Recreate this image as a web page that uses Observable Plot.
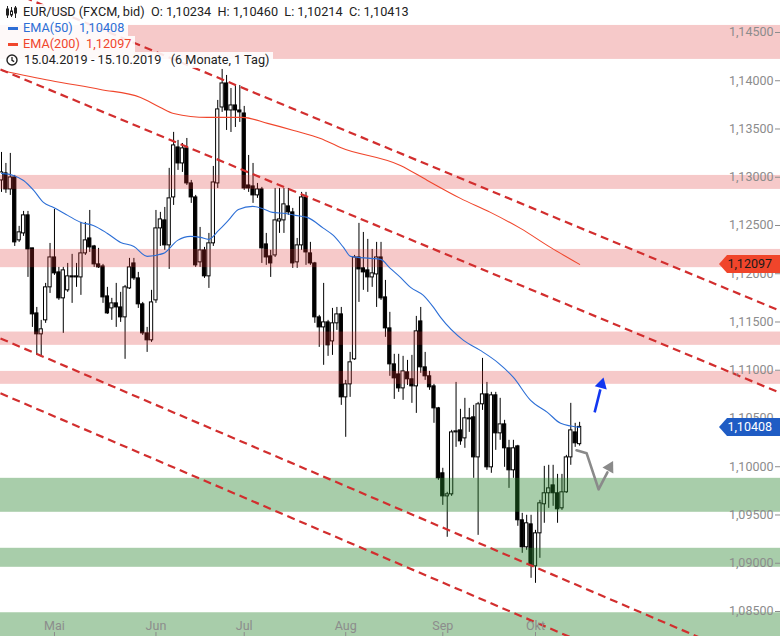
<!DOCTYPE html>
<html><head><meta charset="utf-8">
<script src="https://cdn.jsdelivr.net/npm/d3@7"></script>
<script src="https://cdn.jsdelivr.net/npm/@observablehq/plot@0.6"></script>
<style>
body{margin:0;background:#fff;font-family:Roboto,"Liberation Sans",sans-serif;}
#wrap{position:relative;width:780px;height:636px;overflow:hidden;}
#wrap svg{display:block;}
.row{position:absolute;left:0;height:16px;line-height:16px;white-space:pre;font-size:12.7px;color:#222;background:rgba(255,255,255,0.88);padding-right:4px;display:flex;align-items:center;}
.row svg{margin-left:6px;margin-right:6px;}
.dash{display:inline-block;width:10px;height:3px;margin-left:8px;margin-right:5px;}
.tag{position:absolute;left:719px;width:61px;height:18px;line-height:18px;font-size:12.5px;text-align:right;padding-right:8px;box-sizing:border-box;clip-path:polygon(0 50%,8px 0,100% 0,100% 100%,8px 100%);}
</style></head><body><div id="wrap"></div>
<script>
// ---- data (EUR/USD daily, 15.04.2019 - 15.10.2019, trading-day index 0..131)
const open = [1.12967,1.13040,1.12874,1.12998,1.12346,1.12418,1.12605,1.12263,1.11589,1.11372,
1.11517,1.11859,1.12169,1.12014,1.11745,1.11828,1.11973,1.11962,1.11962,1.12211,
1.12366,1.12283,1.12097,1.12076,1.11765,1.11641,1.11693,1.11651,1.11548,1.11848,
1.12107,1.11952,1.11683,1.11382,1.11310,1.11724,1.12470,1.12553,1.12294,1.12791,
1.13309,1.13143,1.13299,1.12936,1.12791,1.12118,1.12242,1.11973,1.12315,1.12936,
1.13723,1.13972,1.13692,1.13744,1.13692,1.13661,1.12915,1.12905,1.12812,1.12874,
1.12304,1.12180,1.12190,1.12542,1.12553,1.12698,1.12636,1.12118,1.12294,1.12791,
1.12211,1.12107,1.11548,1.11444,1.11496,1.11299,1.11486,1.11579,1.10719,1.10854,
1.11113,1.12169,1.12056,1.12035,1.11962,1.11993,1.12169,1.11755,1.11434,1.11061,
1.10957,1.10812,1.10978,1.10906,1.10833,1.11506,1.11030,1.10937,1.10833,1.10605,
1.09932,1.09693,1.09714,1.10356,1.10377,1.10294,1.10491,1.10512,1.10097,1.10647,
1.10750,1.09994,1.10740,1.10346,1.10439,1.10191,1.09963,1.10211,1.09445,1.09165,
1.09403,1.08968,1.09310,1.09611,1.09725,1.09807,1.09725,1.09569,1.09735,1.10097,
1.10356,1.10234];
const high = [1.13257,1.13143,1.13247,1.13019,1.12491,1.12646,1.12646,1.12263,1.11651,1.11517,
1.11900,1.12314,1.12667,1.12066,1.12066,1.12107,1.12201,1.12107,1.12532,1.12532,
1.12656,1.12294,1.12263,1.12097,1.11859,1.11745,1.11900,1.11807,1.11879,1.12159,
1.12159,1.12014,1.11703,1.11444,1.11828,1.12656,1.12636,1.12687,1.13092,1.13465,
1.13382,1.13350,1.13402,1.12967,1.12812,1.12480,1.12273,1.12418,1.13112,1.13796,
1.14117,1.14055,1.13920,1.13951,1.13951,1.13734,1.13226,1.13143,1.12936,1.12895,
1.12418,1.12242,1.12884,1.12884,1.12884,1.12884,1.12677,1.12366,1.12843,1.12843,
1.12325,1.12118,1.11569,1.11900,1.11517,1.11641,1.11651,1.11651,1.10895,1.11185,
1.12190,1.12522,1.12428,1.12356,1.12252,1.12325,1.12325,1.11931,1.11600,1.11165,
1.11165,1.11144,1.11102,1.11154,1.11558,1.11651,1.11185,1.10988,1.10854,1.10615,
1.09984,1.09735,1.10377,1.10874,1.10595,1.10709,1.10605,1.10636,1.10667,1.11123,
1.10874,1.10771,1.10771,1.10709,1.10481,1.10274,1.10274,1.10222,1.09517,1.09497,
1.09497,1.09341,1.09652,1.10004,1.10015,1.10015,1.09921,1.09921,1.10118,1.10657,
1.10450,1.10460];
const low = [1.12843,1.12833,1.12812,1.12283,1.12325,1.12387,1.11962,1.11444,1.11154,1.11134,
1.11486,1.11796,1.11983,1.11724,1.11382,1.11807,1.11693,1.11859,1.11776,1.12190,
1.12221,1.12066,1.12055,1.11693,1.11579,1.11517,1.11444,1.11496,1.11113,1.11838,
1.11931,1.11641,1.11361,1.11185,1.11289,1.11693,1.12283,1.12242,1.12045,1.12708,
1.13071,1.13050,1.12915,1.12729,1.12066,1.12066,1.11952,1.11848,1.12283,1.12884,
1.13672,1.13485,1.13464,1.13516,1.13568,1.12864,1.12843,1.12729,1.12781,1.12107,
1.12087,1.11962,1.12169,1.12418,1.12418,1.12605,1.12056,1.12056,1.12242,1.12087,
1.12087,1.11486,1.11237,1.11051,1.11144,1.11154,1.11413,1.10636,1.10305,1.10719,
1.11102,1.11703,1.11828,1.11807,1.11859,1.11651,1.11724,1.11341,1.10937,1.10698,
1.10771,1.10688,1.10843,1.10657,1.10553,1.10968,1.10895,1.10792,1.10450,1.09859,
1.09600,1.09269,1.09693,1.10201,1.10222,1.10191,1.10356,1.09880,1.09289,1.10584,
1.09963,1.09932,1.10170,1.10274,1.09994,1.09776,1.09880,1.09383,1.09103,1.09134,
1.08844,1.08792,1.09051,1.09414,1.09569,1.09590,1.09414,1.09548,1.09725,1.10015,
1.10201,1.10214];
const close = [1.13050,1.12874,1.12998,1.12325,1.12429,1.12605,1.12252,1.11579,1.11372,1.11424,
1.11859,1.12169,1.12004,1.11745,1.12035,1.11973,1.11962,1.11973,1.12211,1.12346,
1.12273,1.12097,1.12066,1.11755,1.11589,1.11693,1.11651,1.11548,1.11859,1.12066,
1.11952,1.11683,1.11382,1.11310,1.11703,1.12470,1.12563,1.12294,1.12781,1.13330,
1.13143,1.13299,1.12936,1.12791,1.12087,1.12242,1.11973,1.12315,1.12946,1.13703,
1.13972,1.13692,1.13744,1.13692,1.13672,1.12884,1.12884,1.12812,1.12874,1.12263,
1.12169,1.12107,1.12553,1.12563,1.12719,1.12636,1.12107,1.12294,1.12791,1.12221,
1.12107,1.11548,1.11444,1.11496,1.11258,1.11486,1.11579,1.10719,1.10854,1.11082,
1.12169,1.12045,1.12014,1.11962,1.12004,1.12169,1.11745,1.11434,1.11061,1.10916,
1.10812,1.10988,1.10906,1.10833,1.11403,1.11030,1.10937,1.10823,1.10605,1.09880,
1.09693,1.09714,1.10356,1.10367,1.10263,1.10502,1.10502,1.10097,1.10647,1.10750,
1.09994,1.10740,1.10346,1.10439,1.10191,1.09963,1.10191,1.09445,1.09165,1.09414,
1.08979,1.09310,1.09621,1.09725,1.09776,1.09725,1.09559,1.09735,1.10097,1.10377,
1.10243,1.10413];

// EMA lines (trading-day index, value)
const ema50Idx = [0,2.7,5,7.3,9.5,11.8,15,18,20.8,24,27,30,33,36.7,39.9,42.8,45.1,46.9,49.2,51.4,53.7,56.9,59.1,61.4,64.4,66.6,69.3,73,75.2,77.5,79.1,83.6,85.9,88.1,90.4,92.7,95.6,97.9,99.5,104.7,108.5,112.4,116,119.9,123.7,126.7,131];
const ema50Val = [1.13040,1.13019,1.12967,1.12864,1.12739,1.12687,1.12605,1.12532,1.12501,1.12418,1.12325,1.12283,1.12180,1.12211,1.12346,1.12387,1.12377,1.12356,1.12449,1.12553,1.12667,1.12698,1.12677,1.12636,1.12625,1.12605,1.12584,1.12470,1.12397,1.12273,1.12180,1.12159,1.12149,1.12056,1.11962,1.11859,1.11776,1.11651,1.11548,1.11310,1.11206,1.11082,1.10926,1.10688,1.10564,1.10450,1.10408];
const ema200Idx = [0,11.1,22.4,31.5,36,39,46.7,54.6,60.3,66.2,72.3,76.8,90.4,96.5,104,110.8,117.6,124.4,131];
const ema200Val = [1.14107,1.14003,1.13910,1.13827,1.13723,1.13661,1.13620,1.13620,1.13558,1.13485,1.13402,1.13309,1.13123,1.12967,1.12781,1.12636,1.12470,1.12273,1.12097];

// horizontal zones
const zoneLow  = [1.14221,1.12874,1.12063,1.11258,1.10854,1.09528,1.08958,1.07800];
const zoneHigh = [1.14573,1.13019,1.12252,1.11396,1.10988,1.09880,1.09155,1.08487];
const zoneKind = ["r","r","r","r","r","g","g","g"];

// trend channel lines (start/end index, start/end price)
const trendX1 = [-0.23,-0.23,-0.23,-0.23];
const trendY1 = [1.14967,1.14117,1.11330,1.10761];
const trendX2 = [176.5,176.5,176.5,176.5];
const trendY2 = [1.11614,1.10764,1.07872,1.07302];

// annotation arrows
const blueArrowIdx = [134.4,135.7];
const blueArrowVal = [1.10564,1.10802];
const blueHead = {i:136.0, v:1.10854, rot:15};
const grayPathIdx = [130.3,132.6,135.3,137.3];
const grayPathVal = [1.10170,1.10139,1.09766,1.09942];
const grayHead = {i:137.8, v:1.09994, rot:29};

// axes
const monthIdx = [12,35,55,78,100,121];
const monthLabels = ["Mai","Jun","Jul","Aug","Sep","Okt"];
const yTicks = [1.085,1.09,1.095,1.10,1.105,1.11,1.115,1.12,1.125,1.13,1.135,1.14,1.145];

// ---- build
const fmt = v => v.toFixed(5).replace(".", ",");
const candles = open.map((o,i)=>({i, o, h:high[i], l:low[i], c:close[i]}));
const zones = zoneLow.map((lo,k)=>({lo, hi:zoneHigh[k], kind:zoneKind[k]}));
const trends = trendX1.map((x1,k)=>({x1, y1:trendY1[k], x2:trendX2[k], y2:trendY2[k]}));
const ema50 = ema50Idx.map((i,k)=>({i, v:ema50Val[k]}));
const ema200 = ema200Idx.map((i,k)=>({i, v:ema200Val[k]}));
const grayPath = grayPathIdx.map((i,k)=>({i, v:grayPathVal[k]}));
const blueShaft = [{x1:blueArrowIdx[0], y1:blueArrowVal[0], x2:blueArrowIdx[1], y2:blueArrowVal[1]}];

const chart = Plot.plot({
  width: 780, height: 636, margin: 0,
  x: {type: "linear", domain: [-0.2266, 176.52], axis: null},
  y: {domain: [1.082409, 1.148316], axis: null},
  style: {fontFamily: "Roboto, 'Liberation Sans', sans-serif", background: "#fff"},
  marks: [
    Plot.ruleX(candles, {x: "i", y1: "l", y2: "h", stroke: "#000", strokeWidth: 1}),
    Plot.rect(candles, {x1: d => d.i - 0.37, x2: d => d.i + 0.37, y1: "o", y2: "c",
      fill: d => d.c >= d.o ? "#fff" : "#000", stroke: "#000", strokeWidth: 1}),
    Plot.rect(zones, {y1: "lo", y2: "hi",
      fill: d => d.kind === "r" ? "rgb(222,48,48)" : "rgb(38,130,42)",
      fillOpacity: d => d.kind === "r" ? 0.26 : 0.4}),
    Plot.line(ema200, {x: "i", y: "v", stroke: "#f0462c", strokeWidth: 1.1, curve: "monotone-x"}),
    Plot.line(ema50, {x: "i", y: "v", stroke: "#2d6fd6", strokeWidth: 1.1, curve: "monotone-x"}),
    Plot.link(trends, {x1: "x1", y1: "y1", x2: "x2", y2: "y2", stroke: "#d22e2e",
      strokeWidth: 2.2, strokeDasharray: "8,5", clip: true}),
    Plot.link(blueShaft, {x1: "x1", y1: "y1", x2: "x2", y2: "y2", stroke: "#1237f0", strokeWidth: 2.6}),
    Plot.dot([blueHead], {x: "i", y: "v", symbol: "triangle", r: 4.6, fill: "#1237f0", rotate: "rot"}),
    Plot.line(grayPath, {x: "i", y: "v", stroke: "#8a8a8a", strokeWidth: 2.6}),
    Plot.dot([grayHead], {x: "i", y: "v", symbol: "triangle", r: 4.6, fill: "#8a8a8a", rotate: "rot"}),
    Plot.axisY(yTicks, {anchor: "left", dx: 780, tickSize: 5, tickPadding: 2,
      tickFormat: fmt, color: "#8c8c8c", fontSize: 12.5}),
    Plot.axisX(monthIdx, {anchor: "top", dy: 636, tickSize: 5, tickPadding: 2,
      tickFormat: d => monthLabels[monthIdx.indexOf(d)], color: "#8c8c8c", fontSize: 12.5})
  ]
});

const wrap = document.getElementById("wrap");
wrap.appendChild(chart);
const ys = chart.scale("y");
const last = candles.length - 1;

function row(top, html, width) {
  const d = document.createElement("div");
  d.className = "row";
  d.style.top = top + "px";
  if (width) d.style.width = width + "px";
  d.innerHTML = html;
  wrap.appendChild(d);
}
const icon = '<svg width="11" height="12" viewBox="0 0 11 12"><g stroke="#222" stroke-width="1" fill="#222"><line x1="1.5" y1="0" x2="1.5" y2="12"/><rect x="0.5" y="3" width="2" height="6"/><line x1="5.5" y1="1" x2="5.5" y2="11"/><rect x="4.5" y="5" width="2" height="4" fill="#fff"/><line x1="9.5" y1="0" x2="9.5" y2="12"/><rect x="8.5" y="2" width="2" height="5"/></g></svg>';
const clock = '<svg width="12" height="12" viewBox="0 0 12 12"><circle cx="6" cy="6" r="5" fill="none" stroke="#222" stroke-width="1.4"/><path d="M6 3 V6.3 L8.2 7.6" fill="none" stroke="#222" stroke-width="1.3"/></svg>';
row(4, icon + "EUR/USD (FXCM, bid)  O: " + fmt(open[last]) + "  H: " + fmt(high[last]) + "  L: " + fmt(low[last]) + "  C: " + fmt(close[last]));
row(20, '<span class="dash" style="background:#2d6fd6"></span><span style="color:#2d6fd6">EMA(50)  ' + fmt(ema50Val[ema50Val.length-1]) + '</span>');
row(36, '<span class="dash" style="background:#f0462c"></span><span style="color:#f0462c">EMA(200)  ' + fmt(ema200Val[ema200Val.length-1]) + '</span>');
row(52, clock + "15.04.2019 - 15.10.2019   (6 Monate, 1 Tag)");

function tag(v, bg, fg) {
  const d = document.createElement("div");
  d.className = "tag";
  d.style.top = (ys.apply(v) - 9) + "px";
  d.style.background = bg; d.style.color = fg;
  d.textContent = fmt(v);
  wrap.appendChild(d);
}
tag(ema200Val[ema200Val.length-1], "#f0452b", "#1a1a1a");
tag(ema50Val[ema50Val.length-1], "#1f5cc4", "#fff");
</script></body></html>
